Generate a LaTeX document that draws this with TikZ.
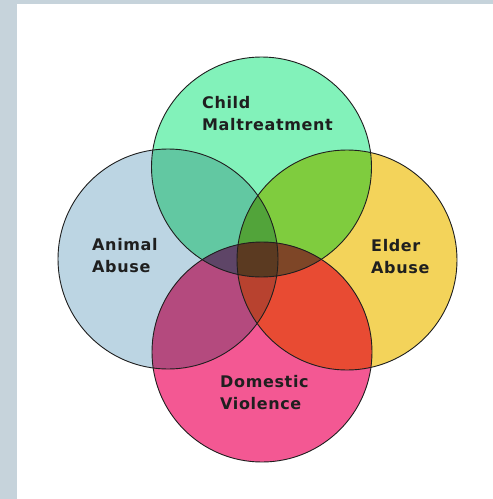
\documentclass[tikz,border=0pt]{standalone}
\usepackage{fontspec}
\newfontfamily\labfont{DejaVu Sans}[LetterSpace=4]
\definecolor{frame}{HTML}{C6D3DB}
\definecolor{cT}{HTML}{82F2BA}
\definecolor{cL}{HTML}{BCD5E3}
\definecolor{cR}{HTML}{F3D35A}
\definecolor{cB}{HTML}{F35893}
\definecolor{cTL}{HTML}{62C8A2}
\definecolor{cTR}{HTML}{7FCC3E}
\definecolor{cLB}{HTML}{B44A7E}
\definecolor{cRB}{HTML}{E84B33}
\definecolor{cTB}{HTML}{5E4567}
\definecolor{cLR}{HTML}{52A43A}
\definecolor{cTLR}{HTML}{52A43A}
\definecolor{cTLB}{HTML}{5E4567}
\definecolor{cTRB}{HTML}{7E4627}
\definecolor{cLRB}{HTML}{B8422F}
\definecolor{cAll}{HTML}{5B3A21}
\tikzset{
  lab/.style={inner sep=0pt, anchor=north west, align=left, font=\labfont\bfseries\fontsize{16}{22}\selectfont, text=black!88},
  ring/.style={draw=black!88, line width=0.9pt}
}
\begin{document}
\begin{tikzpicture}[x=1pt,y=-1pt]
\useasboundingbox (0,0) rectangle (493,499);
\fill[frame] (0,0) rectangle (493,499);
\fill[white] (17,4) rectangle (493,499);
\coordinate (T) at (261.5,167);
\coordinate (L) at (168,259);
\coordinate (R) at (347,260);
\coordinate (B) at (262,352);
\def\rr{110pt}
% single circles
\fill[cT] (T) circle (\rr);
\fill[cL] (L) circle (\rr);
\fill[cR] (R) circle (\rr);
\fill[cB] (B) circle (\rr);
% pairs
\begin{scope}\clip (T) circle (\rr); \fill[cTL] (L) circle (\rr);\end{scope}
\begin{scope}\clip (T) circle (\rr); \fill[cTR] (R) circle (\rr);\end{scope}
\begin{scope}\clip (L) circle (\rr); \fill[cLB] (B) circle (\rr);\end{scope}
\begin{scope}\clip (R) circle (\rr); \fill[cRB] (B) circle (\rr);\end{scope}
\begin{scope}\clip (T) circle (\rr); \fill[cTB] (B) circle (\rr);\end{scope}
\begin{scope}\clip (L) circle (\rr); \fill[cLR] (R) circle (\rr);\end{scope}
% triples
\begin{scope}\clip (T) circle (\rr); \clip (L) circle (\rr); \fill[cTLR] (R) circle (\rr);\end{scope}
\begin{scope}\clip (T) circle (\rr); \clip (L) circle (\rr); \fill[cTLB] (B) circle (\rr);\end{scope}
\begin{scope}\clip (T) circle (\rr); \clip (R) circle (\rr); \fill[cTRB] (B) circle (\rr);\end{scope}
\begin{scope}\clip (L) circle (\rr); \clip (R) circle (\rr); \fill[cLRB] (B) circle (\rr);\end{scope}
% all four
\begin{scope}\clip (T) circle (\rr); \clip (L) circle (\rr); \clip (R) circle (\rr); \fill[cAll] (B) circle (\rr);\end{scope}
% outlines
\draw[ring] (T) circle (\rr);
\draw[ring] (L) circle (\rr);
\draw[ring] (R) circle (\rr);
\draw[ring] (B) circle (\rr);
% labels
\node[lab] (child) at (202,96) {Child\\Maltreatment};
\node[lab] (animal) at (92,238) {Animal\\Abuse};
\node[lab] (elder) at (371,239) {Elder\\Abuse};
\node[lab] (domestic) at (220,375) {Domestic\\Violence};
\end{tikzpicture}
\end{document}
